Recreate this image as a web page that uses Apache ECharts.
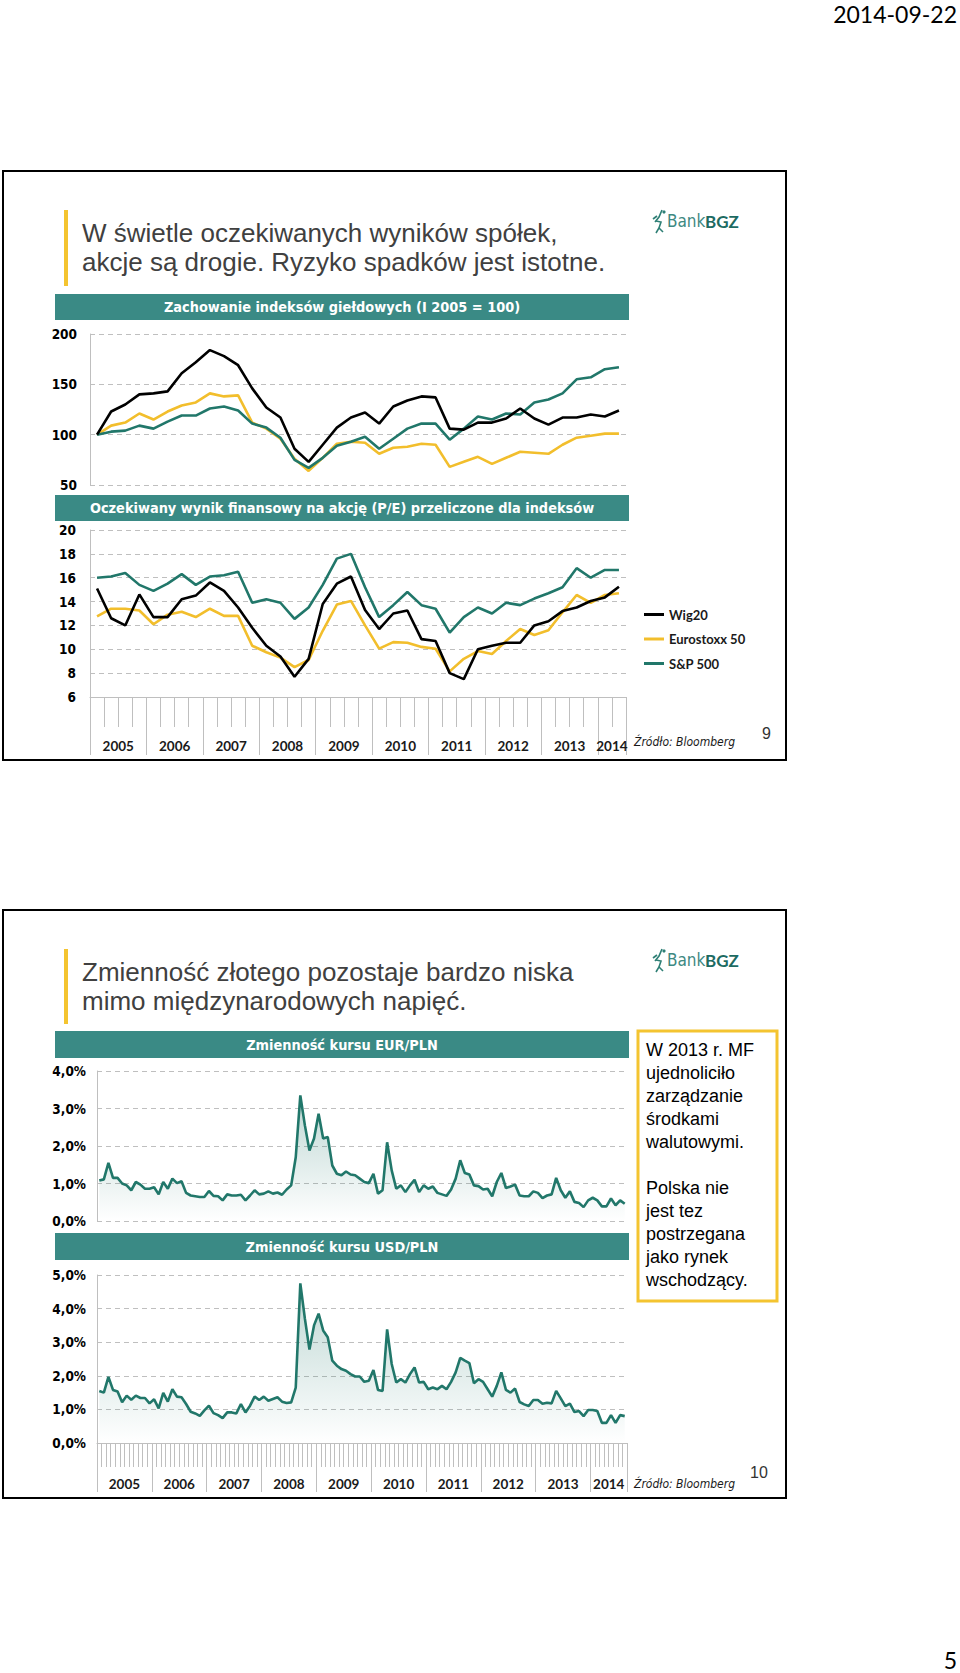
<!DOCTYPE html>
<html>
<head>
<meta charset="utf-8">
<script src="https://cdn.jsdelivr.net/npm/echarts@6/dist/echarts.min.js"></script>
<style>
html,body{margin:0;padding:0;background:#fff;}
#main{width:960px;height:1673px;}
</style>
</head>
<body>
<div id="main"></div>
<script>
// ---------- DATA ----------
const years = ['2005','2006','2007','2008','2009','2010','2011','2012','2013','2014'];
const quarters = [
  'I 2005','II 2005','III 2005','IV 2005','I 2006','II 2006','III 2006','IV 2006',
  'I 2007','II 2007','III 2007','IV 2007','I 2008','II 2008','III 2008','IV 2008',
  'I 2009','II 2009','III 2009','IV 2009','I 2010','II 2010','III 2010','IV 2010',
  'I 2011','II 2011','III 2011','IV 2011','I 2012','II 2012','III 2012','IV 2012',
  'I 2013','II 2013','III 2013','IV 2013','I 2014','II 2014'
];
const monthsPerYear = [12,12,12,12,12,12,12,12,12,8];
const seriesNames = ['Wig20','Eurostoxx 50','S&P 500'];

// Zachowanie indeksów giełdowych (I 2005 = 100)
const wig20Index = [100,123,130,140,141,143,161,172,184,178,169,146,127,117,86,73,90,107,117,122,111,128,134,138,137,106,105,112,112,116,126,116,110,117,117,120,118,124];
const eurostoxxIndex = [100,109,112,121,115,123,129,132,141,138,139,112,106,96,76,64,77,91,93,92,81,87,88,91,90,68,73,78,71,77,83,82,81,90,97,99,101,101];
const spIndex = [100,103,104,109,106,113,119,119,126,128,124,111,107,97,75,67,77,89,93,98,86,96,106,111,111,95,106,118,115,121,120,132,135,141,155,157,165,167];

// P/E
const wig20PE = [15.1,12.6,12.0,14.6,12.7,12.7,14.2,14.5,15.6,14.9,13.5,11.8,10.3,9.4,7.7,9.2,13.8,15.5,16.1,13.3,11.7,13.0,13.25,10.85,10.7,8.0,7.5,10.0,10.3,10.55,10.55,12.0,12.35,13.2,13.5,14.05,14.35,15.25];
const eurostoxxPE = [12.75,13.4,13.4,13.25,12.1,12.9,13.15,12.7,13.4,12.8,12.8,10.3,9.75,9.3,8.5,9.1,11.55,13.75,14.05,12.0,10.05,10.6,10.55,10.2,10.05,8.15,9.2,9.85,9.6,10.7,11.7,11.2,11.6,13.1,14.55,13.9,14.55,14.7];
const spPE = [16.0,16.1,16.4,15.4,14.9,15.5,16.3,15.4,16.1,16.2,16.5,13.9,14.2,13.9,12.55,13.5,15.4,17.6,18.0,15.2,12.7,13.7,14.8,13.7,13.4,11.4,12.7,13.5,13.0,13.9,13.7,14.25,14.7,15.2,16.8,16.0,16.65,16.65];

// Zmienność kursu EUR/PLN (%)
const eurPlnVol = [1.08,1.11,1.55,1.15,1.15,1.0,0.95,0.82,1.04,0.97,
  0.86,0.86,0.9,0.71,1.04,0.86,1.13,1.01,1.06,0.75,
  0.68,0.66,0.64,0.64,0.8,0.67,0.66,0.55,0.71,0.68,
  0.68,0.7,0.55,0.68,0.82,0.71,0.73,0.79,0.73,0.76,
  0.7,0.84,0.95,1.7,3.35,2.55,1.88,2.2,2.86,2.2,
  2.24,1.48,1.26,1.22,1.32,1.24,1.22,1.13,1.04,1.01,
  1.26,0.73,0.82,2.1,1.35,0.86,0.95,0.77,0.95,1.1,
  0.77,0.95,0.86,0.92,0.75,0.71,0.67,0.84,1.13,1.62,
  1.28,1.24,0.95,0.93,0.84,0.86,0.66,1.04,1.28,0.88,
  0.92,0.97,0.68,0.66,0.66,0.79,0.75,0.61,0.68,0.71,
  1.15,0.82,0.62,0.79,0.51,0.48,0.37,0.55,0.62,0.55,
  0.39,0.39,0.6,0.42,0.55,0.46];
// Zmienność kursu USD/PLN (%)
const usdPlnVol = [1.55,1.5,1.97,1.58,1.53,1.21,1.41,1.29,1.41,1.34,
  1.34,1.18,1.3,1.03,1.49,1.23,1.6,1.38,1.36,1.16,
  0.93,0.88,0.81,0.97,1.11,0.89,0.83,0.74,0.91,0.91,
  0.88,1.16,0.91,1.11,1.38,1.28,1.38,1.26,1.31,1.36,
  1.23,1.19,1.21,1.65,4.75,3.7,2.78,3.5,3.85,3.35,
  3.15,2.45,2.3,2.2,2.15,2.05,1.98,1.98,1.82,1.85,
  2.17,1.58,1.55,3.38,2.35,1.8,1.9,1.8,2.05,2.25,
  1.8,1.82,1.6,1.65,1.6,1.7,1.6,1.82,2.1,2.53,
  2.45,2.38,1.78,1.9,1.82,1.6,1.38,1.7,2.1,1.58,
  1.5,1.62,1.22,1.15,1.1,1.28,1.28,1.17,1.2,1.18,
  1.55,1.33,1.1,1.17,0.92,0.95,0.8,0.98,0.98,0.95,
  0.6,0.6,0.83,0.6,0.83,0.8];

const indexTicks = {min:50, max:200, interval:50};
const peTicks = {min:6, max:20, interval:2};
const eurTicks = {min:0, max:4, interval:1};
const usdTicks = {min:0, max:5, interval:1};

// ---------- BUILD ----------
const months = [];
years.forEach((y, k) => { for (let m = 1; m <= monthsPerYear[k]; m++) months.push(String(m).padStart(2,'0') + '.' + y); });

function yearMarks(cats) {
  const yr = cats.map(c => c.slice(-4));
  const starts = new Set(), mids = new Set();
  let i = 0;
  while (i < yr.length) {
    let j = i; while (j < yr.length && yr[j] === yr[i]) j++;
    starts.add(i); mids.add(i + Math.floor((j - i) / 2)); i = j;
  }
  return {starts, mids};
}
const qMarks = yearMarks(quarters);
const mMarks = yearMarks(months);

const C_BLACK = '#000000', C_YELLOW = '#F2BE2C', C_TEAL = '#21776A';
const C_BAR = '#3A8A85', C_ACCENT = '#F4C430', C_GRID = '#BFBFBF';
const NARROW = "'Liberation Sans Narrow','DejaVu Sans Condensed',sans-serif";
const ARIAL = "'Liberation Sans',Arial,sans-serif";

const G = [
  {left:90, top:334, width:536, height:151},   // index
  {left:90, top:530, width:536, height:167},   // P/E
  {left:97, top:1071, width:530, height:150},  // EUR
  {left:97, top:1275, width:530, height:168}   // USD
];
const qBand = G[1].width / quarters.length;
const mBand = G[3].width / months.length;

const yLabel = {color:'#000', fontFamily:NARROW, fontWeight:'bold', fontSize:13.5};
const splitDash = {show:true, lineStyle:{color:C_GRID, type:[5,4], width:1}};
const pct = v => v.toFixed(1).replace('.', ',') + '%';

function yAx(grid, t, fmt, margin) {
  return {gridIndex:grid, type:'value', min:t.min, max:t.max, interval:t.interval,
    axisLine:{show:true, lineStyle:{color:C_GRID}}, axisTick:{show:false},
    splitLine:splitDash, axisLabel:Object.assign({margin:margin, formatter:fmt}, yLabel)};
}

const xAxes = [
  {gridIndex:0, type:'category', data:quarters, show:false},
  {gridIndex:1, type:'category', data:quarters, position:'bottom',
    axisLine:{show:true, lineStyle:{color:C_GRID}},
    axisTick:{show:true, interval:0, length:30, lineStyle:{color:C_GRID}},
    axisLabel:{show:false}},
  {gridIndex:1, type:'category', data:quarters, position:'bottom',
    axisLine:{show:false},
    axisTick:{show:true, interval:i => qMarks.starts.has(i), length:58, lineStyle:{color:C_GRID}},
    axisLabel:{show:true, interval:i => qMarks.mids.has(i), formatter:v => v.slice(-4),
      padding:[0, qBand, 0, 0], margin:49, verticalAlign:'middle',
      fontFamily:'Lato', fontWeight:'bold', fontSize:13.5, color:'#1a1a1a'}},
  {gridIndex:2, type:'category', data:months, show:false},
  {gridIndex:3, type:'category', data:months, position:'bottom',
    axisLine:{show:true, lineStyle:{color:C_GRID}},
    axisTick:{show:true, interval:0, length:24, lineStyle:{color:C_GRID}},
    axisLabel:{show:false}},
  {gridIndex:3, type:'category', data:months, position:'bottom',
    axisLine:{show:false},
    axisTick:{show:true, interval:i => mMarks.starts.has(i), length:49, lineStyle:{color:C_GRID}},
    axisLabel:{show:true, interval:i => mMarks.mids.has(i), formatter:v => v.slice(-4),
      padding:[0, mBand, 0, 0], margin:41, verticalAlign:'middle',
      fontFamily:'Lato', fontWeight:'bold', fontSize:13.5, color:'#1a1a1a'}}
];

const yAxes = [
  yAx(0, indexTicks, v => String(v), 13),
  yAx(1, peTicks, v => String(v), 14),
  yAx(2, eurTicks, pct, 11),
  yAx(3, usdTicks, pct, 11)
];

function lineS(name, data, color, xi, yi, z) {
  return {name, type:'line', data, xAxisIndex:xi, yAxisIndex:yi, color, symbol:'none',
    lineStyle:{width:2.6, color}, z:z || 2, animation:false};
}
function volS(name, data, xi, yi) {
  const s = lineS(name, data, C_TEAL, xi, yi);
  s.areaStyle = {color:new echarts.graphic.LinearGradient(0,0,0,1,[
    {offset:0, color:'rgba(33,119,106,0.42)'},{offset:1, color:'rgba(33,119,106,0.0)'}])};
  return s;
}

const series = [
  lineS(seriesNames[1], eurostoxxIndex, C_YELLOW, 0, 0, 2),
  lineS(seriesNames[2], spIndex, C_TEAL, 0, 0, 3),
  lineS(seriesNames[0], wig20Index, C_BLACK, 0, 0, 4),
  lineS(seriesNames[1], eurostoxxPE, C_YELLOW, 1, 1, 2),
  lineS(seriesNames[2], spPE, C_TEAL, 1, 1, 3),
  lineS(seriesNames[0], wig20PE, C_BLACK, 1, 1, 4),
  volS('EUR/PLN', eurPlnVol, 3, 2),
  volS('USD/PLN', usdPlnVol, 4, 3)
];

// ---------- PAGE GRAPHICS ----------
function header(y, h, text) {
  return [
    {type:'rect', shape:{x:55, y:y, width:574, height:h}, style:{fill:C_BAR}, z:10},
    {type:'text', x:342, y:y + h/2, style:{text:text, fill:'#fff', font:'bold 14.4px ' + NARROW, align:'center', verticalAlign:'middle'}, z:11}
  ];
}
function logo(y) {
  const st = {stroke:'#2E7F75', lineWidth:1.6, fill:null};
  return [
    {type:'polyline', shape:{points:[[662,y+1],[659,y+8],[655,y+13]]}, style:st, z:10},
    {type:'polyline', shape:{points:[[656,y+12],[661,y+13],[659,y+19],[656,y+24]]}, style:st, z:10},
    {type:'polyline', shape:{points:[[659,y+19],[663,y+23]]}, style:st, z:10},
    {type:'polyline', shape:{points:[[657,y+7],[653,y+10]]}, style:st, z:10},
    {type:'circle', shape:{cx:664, cy:y+3, r:1.6}, style:{fill:'#2E7F75'}, z:10},
    {type:'text', x:667, y:y + 12, style:{text:'Bank', fill:'#3E8982', font:'17px ' + NARROW, verticalAlign:'middle'}, z:10},
    {type:'text', x:705, y:y + 12, style:{text:'BGZ', fill:'#1D6B62', font:'bold 17px Lato', verticalAlign:'middle'}, z:10}
  ];
}
function title(y1, l1, l2, barTop, barH) {
  return [
    {type:'rect', shape:{x:64, y:barTop, width:4, height:barH}, style:{fill:C_ACCENT}, z:10},
    {type:'text', x:82, y:y1, style:{text:l1, fill:'#404040', font:'26px ' + ARIAL, verticalAlign:'middle'}, z:10},
    {type:'text', x:82, y:y1 + 29, style:{text:l2, fill:'#404040', font:'26px ' + ARIAL, verticalAlign:'middle'}, z:10}
  ];
}
const srcText = 'Źródło: Bloomberg';
const graphics = [].concat(
  [{type:'text', x:957, y:14, style:{text:'2014-09-22', fill:'#000', font:'23px Lato', align:'right', verticalAlign:'middle'}, z:10}],
  [{type:'rect', shape:{x:3, y:171, width:783, height:589}, style:{fill:null, stroke:'#000', lineWidth:2}, z:12}],
  title(233, 'W świetle oczekiwanych wyników spółek,', 'akcje są drogie. Ryzyko spadków jest istotne.', 210, 76),
  logo(209),
  header(294, 26, 'Zachowanie indeksów giełdowych (I 2005 = 100)'),
  header(495, 26, 'Oczekiwany wynik finansowy na akcję (P/E) przeliczone dla indeksów'),
  [{type:'text', x:634, y:742, style:{text:srcText, fill:'#1a1a1a', font:'italic 12px ' + NARROW, verticalAlign:'middle'}, z:10},
   {type:'text', x:762, y:733, style:{text:'9', fill:'#333', font:'16px ' + ARIAL, verticalAlign:'middle'}, z:10}],
  [{type:'rect', shape:{x:3, y:910, width:783, height:588}, style:{fill:null, stroke:'#000', lineWidth:2}, z:12}],
  title(972, 'Zmienność złotego pozostaje bardzo niska', 'mimo międzynarodowych napięć.', 949, 75),
  logo(948),
  header(1031, 27, 'Zmienność kursu EUR/PLN'),
  header(1233, 27, 'Zmienność kursu USD/PLN'),
  [{type:'rect', shape:{x:638, y:1031, width:139, height:270}, style:{fill:'#fff', stroke:C_ACCENT, lineWidth:3}, z:10},
   {type:'text', x:646, y:1038, style:{text:'W 2013 r. MF\nujednoliciło\nzarządzanie\nśrodkami\nwalutowymi.\n\nPolska nie\njest tez\npostrzegana\njako rynek\nwschodzący.',
     fill:'#000', font:'18px ' + ARIAL, lineHeight:23}, z:11},
   {type:'text', x:634, y:1484, style:{text:srcText, fill:'#1a1a1a', font:'italic 12px ' + NARROW, verticalAlign:'middle'}, z:10},
   {type:'text', x:750, y:1472, style:{text:'10', fill:'#333', font:'16px ' + ARIAL, verticalAlign:'middle'}, z:10},
   {type:'text', x:957, y:1660, style:{text:'5', fill:'#000', font:'23px Lato', align:'right', verticalAlign:'middle'}, z:10}]
);

const chart = echarts.init(document.getElementById('main'), null, {renderer:'svg', width:960, height:1673});
chart.setOption({
  backgroundColor:'#fff',
  animation:false,
  grid:G.map(g => Object.assign({containLabel:false}, g)),
  xAxis:xAxes,
  yAxis:yAxes,
  legend:{show:true, data:seriesNames, orient:'vertical', left:639, top:603, itemWidth:20, itemHeight:3, itemGap:11.5,
    icon:'rect', selectedMode:false,
    textStyle:{fontFamily:'Lato', fontWeight:'bold', fontSize:13, color:'#1a1a1a'}},
  series:series,
  graphic:graphics
});
</script>
</body>
</html>
